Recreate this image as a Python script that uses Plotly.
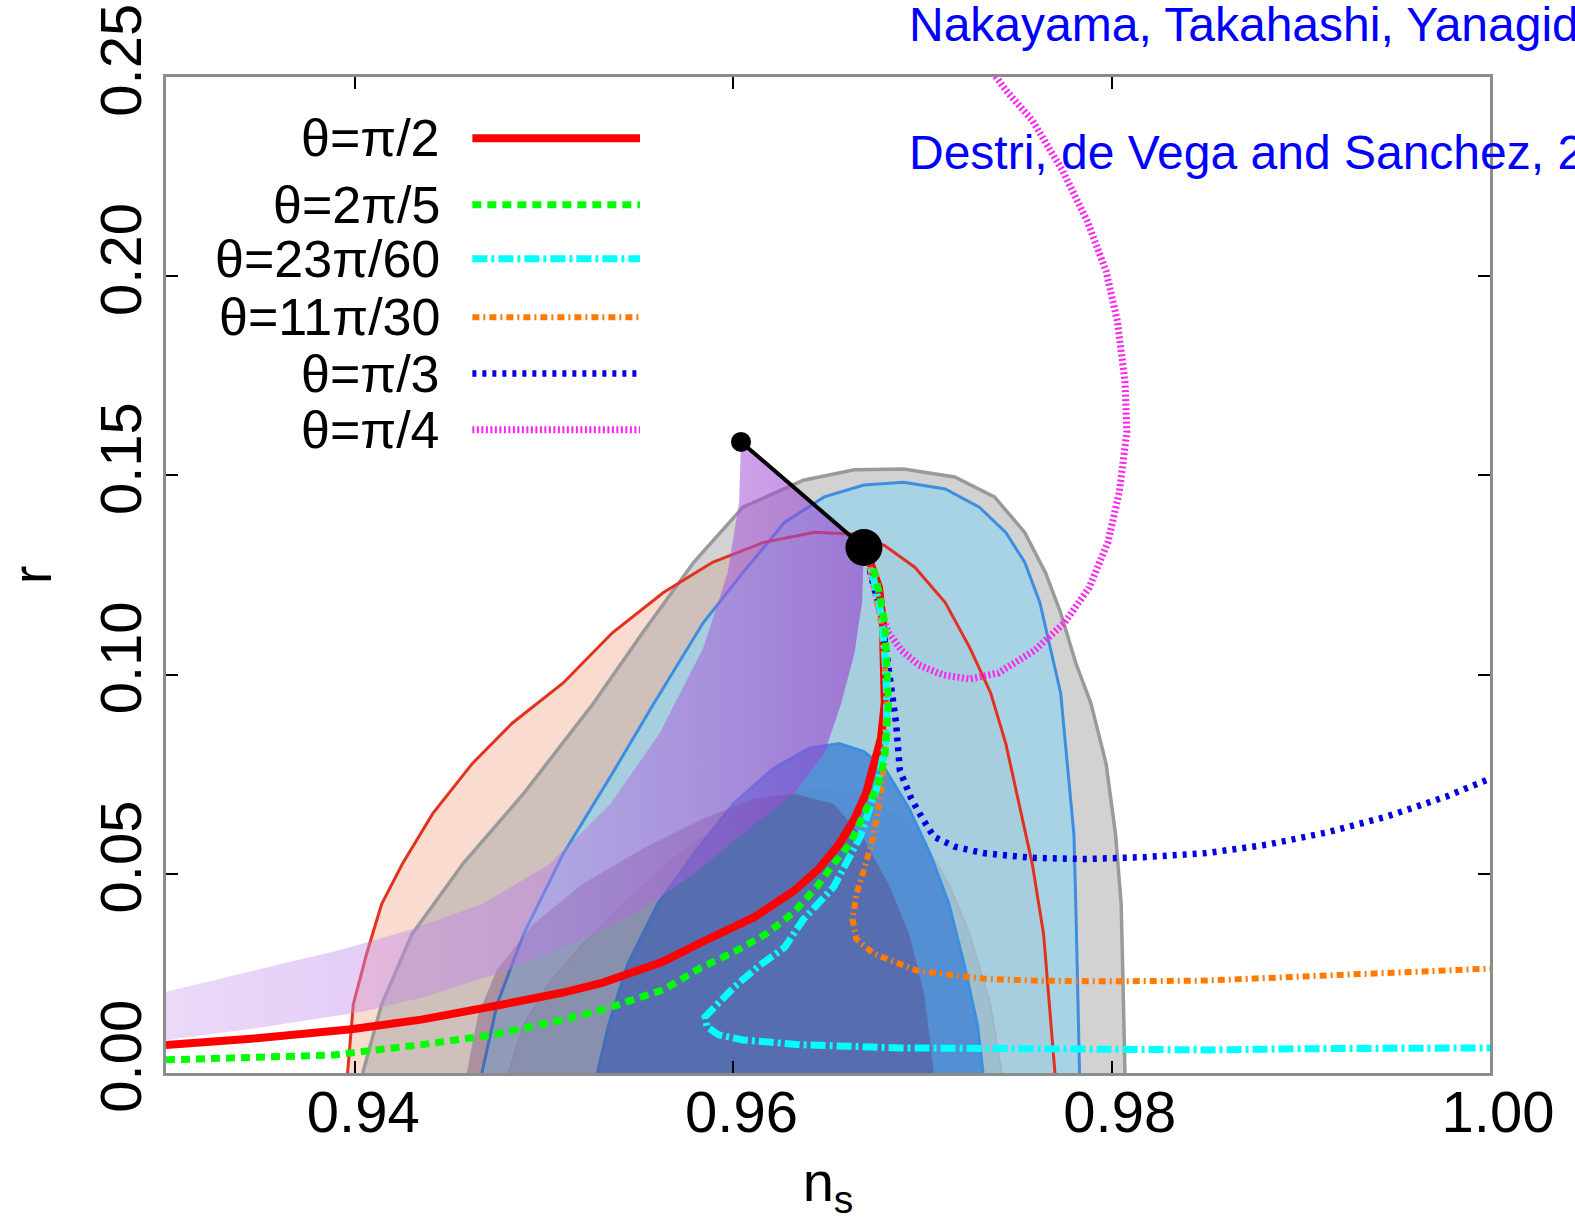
import plotly.graph_objects as go

# ---------------- axes ----------------
X_RANGE = [0.93, 1.00]
Y_RANGE = [0.0, 0.25]
X_TICKS = [0.94, 0.96, 0.98, 1.00]
X_TICK_TEXT = ["0.94", "0.96", "0.98", "1.00"]
Y_TICKS = [0.0, 0.05, 0.10, 0.15, 0.20, 0.25]
Y_TICK_TEXT = ["0.00", "0.05", "0.10", "0.15", "0.20", "0.25"]

# ---------------- observational contours (ns, r) ----------------
GRAY95_NS = [0.9404, 0.9414, 0.9430, 0.9457, 0.9489, 0.9526, 0.9552, 0.9579, 0.9605, 0.9637, 0.9664, 0.9690,
             0.9717, 0.9738, 0.9754, 0.9765, 0.9773, 0.9781, 0.9789, 0.9797, 0.9802, 0.9805, 0.9806, 0.9807]
GRAY95_R = [0.0, 0.0172, 0.0348, 0.0525, 0.0701, 0.0928, 0.1105, 0.1282, 0.1420, 0.1488, 0.1514, 0.1516,
            0.1496, 0.1446, 0.1357, 0.1256, 0.1155, 0.1029, 0.0928, 0.0777, 0.0600, 0.0424, 0.0222, 0.0]

BLUE95_NS = [0.9467, 0.9475, 0.9489, 0.9510, 0.9536, 0.9558, 0.9584, 0.9605, 0.9627, 0.9648, 0.9669, 0.9690,
             0.9712, 0.9730, 0.9744, 0.9754, 0.9762, 0.9767, 0.9773, 0.9776, 0.9780, 0.9781, 0.9782, 0.9783]
BLUE95_R = [0.0, 0.0172, 0.0348, 0.0550, 0.0752, 0.0928, 0.1130, 0.1256, 0.1382, 0.1446, 0.1476, 0.1483,
            0.1466, 0.1420, 0.1357, 0.1282, 0.1181, 0.1080, 0.0954, 0.0802, 0.0600, 0.0424, 0.0222, 0.0]

RED95_NS = [0.9396, 0.9399, 0.9406, 0.9414, 0.9425, 0.9441, 0.9462, 0.9483, 0.9510, 0.9536, 0.9563, 0.9589,
            0.9616, 0.9643, 0.9664, 0.9680, 0.9696, 0.9712, 0.9725, 0.9736, 0.9744, 0.9751, 0.9758, 0.9764,
            0.9767, 0.9770]
RED95_R = [0.0, 0.0172, 0.0298, 0.0424, 0.0525, 0.0651, 0.0777, 0.0878, 0.0979, 0.1105, 0.1206, 0.1282,
           0.1332, 0.1357, 0.1352, 0.1324, 0.1269, 0.1181, 0.1067, 0.0954, 0.0827, 0.0676, 0.0525, 0.0348,
           0.0172, 0.0]

GRAY68_NS = [0.9481, 0.9489, 0.9502, 0.9520, 0.9542, 0.9568, 0.9595, 0.9621, 0.9643, 0.9664, 0.9685, 0.9701,
             0.9714, 0.9725, 0.9736, 0.9742]
GRAY68_R = [0.0, 0.0121, 0.0222, 0.0323, 0.0424, 0.0537, 0.0626, 0.0689, 0.0714, 0.0701, 0.0651, 0.0575,
            0.0474, 0.0348, 0.0172, 0.0]

BLUE68_NS = [0.9528, 0.9534, 0.9544, 0.9560, 0.9579, 0.9600, 0.9621, 0.9640, 0.9656, 0.9669, 0.9680, 0.9693,
             0.9704, 0.9714, 0.9722, 0.9729, 0.9732]
BLUE68_R = [0.0, 0.0121, 0.0272, 0.0424, 0.0550, 0.0676, 0.0764, 0.0815, 0.0827, 0.0807, 0.0764, 0.0663,
            0.0550, 0.0424, 0.0272, 0.0121, 0.0]

RED68_NS = [0.9459, 0.9465, 0.9475, 0.9494, 0.9520, 0.9552, 0.9584, 0.9611, 0.9632, 0.9653, 0.9669, 0.9682,
            0.9693, 0.9701, 0.9706]
RED68_R = [0.0, 0.0146, 0.0260, 0.0373, 0.0474, 0.0563, 0.0638, 0.0689, 0.0701, 0.0676, 0.0588, 0.0474,
           0.0348, 0.0197, 0.0]

# ---------------- model band (purple) ----------------
BAND_NS = [0.9300, 0.9345, 0.9393, 0.9430, 0.9467, 0.9503, 0.9535, 0.9561, 0.9584, 0.9597, 0.9603, 0.9604,
           0.9669, 0.9668, 0.9664, 0.9657, 0.9648, 0.9632, 0.9605, 0.9579, 0.9552, 0.9520, 0.9482, 0.9435,
           0.9404, 0.9350, 0.9300]
BAND_R = [0.0204, 0.0255, 0.0310, 0.0361, 0.0424, 0.0525, 0.0676, 0.0853, 0.1067, 0.1256, 0.1433, 0.1584,
          0.1319, 0.1181, 0.1054, 0.0928, 0.0802, 0.0701, 0.0600, 0.0500, 0.0411, 0.0336, 0.0260, 0.0189,
          0.0154, 0.0114, 0.0083]

# ---------------- model curves ----------------
PI2_NS = [0.9300, 0.9345, 0.9398, 0.9435, 0.9478, 0.9510, 0.9531, 0.9563, 0.9584, 0.9611, 0.9632, 0.9645,
          0.9656, 0.9664, 0.9670, 0.9674, 0.9678, 0.9680, 0.9680, 0.9679, 0.9677, 0.9673, 0.9670]
PI2_R = [0.0070, 0.0086, 0.0110, 0.0134, 0.0172, 0.0202, 0.0227, 0.0280, 0.0330, 0.0391, 0.0457, 0.0512,
         0.0575, 0.0638, 0.0701, 0.0764, 0.0840, 0.0928, 0.1029, 0.1130, 0.1218, 0.1276, 0.1314]

TWOPI5_NS = [0.9300, 0.9345, 0.9388, 0.9435, 0.9473, 0.9510, 0.9531, 0.9563, 0.9583, 0.9600, 0.9618, 0.9632,
             0.9644, 0.9653, 0.9662, 0.9669, 0.9676, 0.9680, 0.9681, 0.9682, 0.9681, 0.9680, 0.9677, 0.9674,
             0.9671]
TWOPI5_R = [0.0033, 0.0038, 0.0045, 0.0071, 0.0096, 0.0134, 0.0159, 0.0209, 0.0265, 0.0303, 0.0351, 0.0404,
            0.0467, 0.0525, 0.0578, 0.0651, 0.0719, 0.0790, 0.0843, 0.0928, 0.1029, 0.1130, 0.1206, 0.1269,
            0.1307]

P23_NS = [0.9670, 0.9674, 0.9678, 0.9680, 0.9681, 0.9681, 0.9676, 0.9667, 0.9653, 0.9637, 0.9627, 0.9613,
          0.9600, 0.9591, 0.9585, 0.9586, 0.9592, 0.9605, 0.9635, 0.9688, 0.9744, 0.9797, 0.9850, 0.9903,
          0.9956, 1.0000]
P23_R = [0.1312, 0.1244, 0.1155, 0.1054, 0.0954, 0.0843, 0.0719, 0.0593, 0.0467, 0.0386, 0.0315, 0.0267,
         0.0214, 0.0172, 0.0141, 0.0116, 0.0096, 0.0083, 0.0071, 0.0063, 0.0061, 0.0058, 0.0058, 0.0061,
         0.0061, 0.0063]

P11_NS = [0.9670, 0.9674, 0.9678, 0.9680, 0.9681, 0.9680, 0.9679, 0.9677, 0.9674, 0.9669, 0.9665, 0.9663,
          0.9665, 0.9674, 0.9685, 0.9697, 0.9717, 0.9732, 0.9758, 0.9797, 0.9850, 0.9903, 0.9956, 1.0000]
P11_R = [0.1312, 0.1231, 0.1130, 0.1029, 0.0928, 0.0827, 0.0739, 0.0676, 0.0593, 0.0510, 0.0449, 0.0386,
         0.0336, 0.0300, 0.0278, 0.0257, 0.0245, 0.0237, 0.0232, 0.0230, 0.0232, 0.0242, 0.0252, 0.0262]

PI3_NS = [0.9670, 0.9673, 0.9678, 0.9681, 0.9684, 0.9686, 0.9688, 0.9694, 0.9700, 0.9706, 0.9717, 0.9732,
          0.9758, 0.9786, 0.9818, 0.9850, 0.9882, 0.9913, 0.9945, 0.9977, 1.0000]
PI3_R = [0.1312, 0.1244, 0.1155, 0.1054, 0.0954, 0.0878, 0.0759, 0.0689, 0.0638, 0.0593, 0.0568, 0.0552,
         0.0540, 0.0537, 0.0542, 0.0552, 0.0573, 0.0603, 0.0643, 0.0694, 0.0739]

PI4_NS = [0.9670, 0.9673, 0.9677, 0.9682, 0.9689, 0.9698, 0.9711, 0.9725, 0.9740, 0.9759, 0.9775, 0.9788,
          0.9798, 0.9804, 0.9808, 0.9807, 0.9803, 0.9797, 0.9787, 0.9774, 0.9758, 0.9744, 0.9733]
PI4_R = [0.1312, 0.1244, 0.1168, 0.1105, 0.1060, 0.1024, 0.0999, 0.0989, 0.1004, 0.1060, 0.1130, 0.1218,
         0.1332, 0.1458, 0.1609, 0.1736, 0.1887, 0.2013, 0.2139, 0.2265, 0.2391, 0.2467, 0.2538]

# endpoints of the black segment (small dot, big dot)
SEG_NS = [0.9604, 0.9669]
SEG_R = [0.1584, 0.1319]

LEGEND_LABELS = ["θ=π/2", "θ=2π/5", "θ=23π/60", "θ=11π/30", "θ=π/3", "θ=π/4"]
REFS = ["Nakayama, Takahashi, Yanagida 2013", "Destri, de Vega and Sanchez, 2008"]

FONT = "Liberation Sans, Arial, Helvetica, sans-serif"
NBSP = "\u00a0"

fig = go.Figure()


def region(xs, ys, fill, lc, lw):
    fig.add_trace(go.Scatter(x=xs, y=ys, mode="lines", fill="toself", fillcolor=fill,
                             line=dict(color=lc, width=lw), hoverinfo="skip", showlegend=False))


def outline(xs, ys, lc, lw):
    fig.add_trace(go.Scatter(x=xs, y=ys, mode="lines", line=dict(color=lc, width=lw),
                             hoverinfo="skip", showlegend=False))


# 95% regions: salmon (opaque) below, translucent grey and blue above
region(RED95_NS, RED95_R, "#f9dbd0", "rgba(0,0,0,0)", 0)
region(GRAY95_NS, GRAY95_R, "rgba(165,165,165,0.5)", "#9a9a9a", 3.5)
region(BLUE95_NS, BLUE95_R, "rgba(151,211,236,0.72)", "#3c8ee0", 3)
outline(RED95_NS, RED95_R, "#e2321f", 3)

# 68% regions
region(GRAY68_NS, GRAY68_R, "rgba(110,110,125,0.16)", "rgba(165,175,195,0.8)", 1.5)
region(BLUE68_NS, BLUE68_R, "rgba(72,134,212,0.85)", "#3c8ee0", 3)
region(RED68_NS, RED68_R, "rgba(88,36,95,0.30)", "rgba(0,0,0,0)", 0)

# purple model band
fig.add_trace(go.Scatter(
    x=BAND_NS, y=BAND_R, mode="lines", fill="toself",
    fillgradient=dict(type="horizontal",
                      colorscale=[[0, "rgba(205,160,240,0.40)"], [0.55, "rgba(185,120,230,0.46)"],
                                  [1, "rgba(150,60,205,0.60)"]]),
    line=dict(width=0, color="rgba(0,0,0,0)"), hoverinfo="skip", showlegend=False))

STYLE_PI2 = ("#ff0000", 8, "solid")
STYLE_2PI5 = ("#00ff00", 7, "9px,6px")
STYLE_23 = ("#00ffff", 7, "15px,4px,3px,4px")
STYLE_11 = ("#ff7a00", 6, "7px,4px,2px,4px")
STYLE_PI3 = ("#0000e0", 6.5, "4px,6px")
STYLE_PI4 = ("#ff22ee", 7, "2px,2.5px")

CURVES = [
    (PI2_NS, PI2_R, STYLE_PI2),
    (PI4_NS, PI4_R, STYLE_PI4),
    (PI3_NS, PI3_R, STYLE_PI3),
    (P11_NS, P11_R, STYLE_11),
    (P23_NS, P23_R, STYLE_23),
    (TWOPI5_NS, TWOPI5_R, STYLE_2PI5),
]
for xs, ys, (c, w, d) in CURVES:
    fig.add_trace(go.Scatter(x=xs, y=ys, mode="lines", line=dict(color=c, width=w, dash=d),
                             hoverinfo="skip", showlegend=False))

fig.add_trace(go.Scatter(x=SEG_NS, y=SEG_R, mode="lines", line=dict(color="black", width=4),
                         hoverinfo="skip", showlegend=False))
fig.add_trace(go.Scatter(x=SEG_NS, y=SEG_R, mode="markers",
                         marker=dict(color="black", size=[20, 37], opacity=1, line=dict(width=0)),
                         hoverinfo="skip", showlegend=False))

# ---------------- manual legend ----------------
LEG_Y = [0.9384, 0.8718, 0.8174, 0.7588, 0.7023, 0.6458]
LEG_STYLE = [STYLE_PI2, STYLE_2PI5, STYLE_23, STYLE_11, STYLE_PI3, STYLE_PI4]
annotations = []
shapes = []
for lab, yy, (c, w, d) in zip(LEGEND_LABELS, LEG_Y, LEG_STYLE):
    annotations.append(dict(text=lab, xref="paper", yref="paper", x=0.2087, y=yy, xanchor="right",
                            yanchor="middle", showarrow=False, font=dict(size=52, color="black", family=FONT)))
    shapes.append(dict(type="line", xref="paper", yref="paper", x0=0.2314, x1=0.358, y0=yy, y1=yy,
                       line=dict(color=c, width=w, dash=d)))

annotations.append(dict(text=REFS[0], xref="paper", yref="paper", x=0.5599, y=1.0525, xanchor="left",
                        yanchor="middle", showarrow=False, font=dict(size=48, color="#0000ff", family=FONT)))
annotations.append(dict(text=REFS[1], xref="paper", yref="paper", x=0.5599, y=0.9243, xanchor="left",
                        yanchor="middle", showarrow=False, font=dict(size=48, color="#0000ff", family=FONT)))

axis_common = dict(showline=True, linecolor="#8c8c8c", linewidth=3, mirror="ticks", ticks="inside",
                   ticklen=12, tickwidth=2, tickcolor="black", showgrid=False, zeroline=False,
                   automargin=False, tickfont=dict(size=58, color="black", family=FONT))

fig.update_layout(
    width=1575, height=1224,
    margin=dict(l=166, r=85, t=77, b=151),
    paper_bgcolor="white", plot_bgcolor="white",
    xaxis=dict(range=X_RANGE, tickvals=X_TICKS, ticktext=[NBSP + t for t in X_TICK_TEXT], ticklabelstandoff=-14,
               title=dict(text="n<sub>s</sub>", font=dict(size=56, color="black", family=FONT), standoff=20),
               **axis_common),
    yaxis=dict(range=Y_RANGE, tickvals=Y_TICKS, ticktext=[NBSP + t for t in Y_TICK_TEXT], tickangle=-90,
               ticklabelstandoff=-1,
               title=dict(text="r", font=dict(size=56, color="black", family=FONT), standoff=30),
               **axis_common),
    annotations=annotations,
    shapes=shapes,
)

fig.write_html("out.html")
